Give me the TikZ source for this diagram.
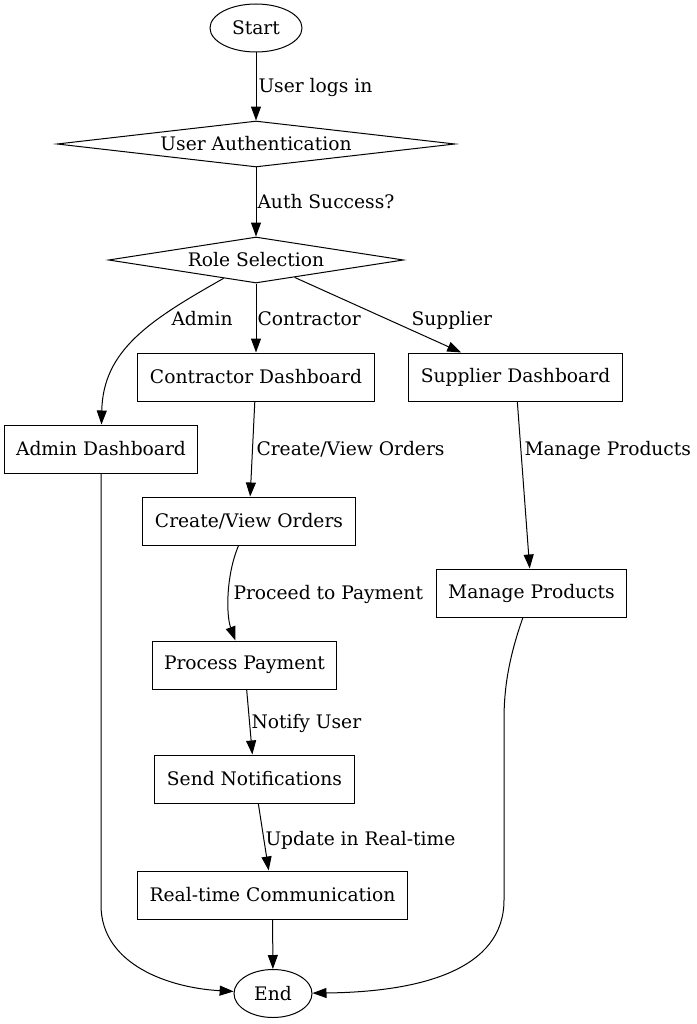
\documentclass[tikz,border=0pt]{standalone}
\usepackage{fontspec}
\setmainfont{DejaVu Serif}
\usetikzlibrary{shapes.geometric,arrows.meta}

\begin{document}
\begin{tikzpicture}[
        x=0.75pt, y=-0.75pt,
        every node/.style={align=center, font=\fontsize{14pt}{17pt}\selectfont},
        box/.style={rectangle, draw, line width=0.75pt, minimum height=36pt, inner xsep=9pt},
        terminal/.style={ellipse, draw, line width=0.75pt, minimum height=36pt},
        decision/.style={diamond, draw, line width=0.75pt, aspect=8, inner sep=0pt, minimum height=34.5pt},
        arr/.style={-{Triangle[length=10.5pt,width=7.5pt]}, line width=0.75pt},
    ]
    \tikzstyle{lbl}=[anchor=west, inner sep=0pt, text height=10pt, text depth=3pt, yshift=-2.25pt]
    \useasboundingbox (0,0) rectangle (696,1024);
    \node[terminal, minimum width=69pt] (start) at (256,28) {Start};
    \node[decision, minimum width=298.5pt] (ua) at (256,144) {User Authentication};
    \node[decision, minimum width=221.25pt] (rs) at (256,260) {Role Selection};
    \node[box] (cd) at (256,377) {Contractor Dashboard};
    \node[box] (sd) at (515.5,377) {Supplier Dashboard};
    \node[box] (ad) at (101,449) {Admin Dashboard};
    \node[box] (cvo) at (249,521) {Create/View Orders};
    \node[box] (mp) at (531.5,593) {Manage Products};
    \node[box] (pp) at (244.5,665) {Process Payment};
    \node[box] (sn) at (254.5,779) {Send Notifications};
    \node[box] (rtc) at (272.5,895) {Real-time Communication};
    \node[terminal, minimum width=58.5pt] (stop) at (273,993.5) {End};

    \draw[arr] (start) -- (ua) node[lbl] at (258,85) {User logs in};
    \draw[arr] (ua) -- (rs) node[lbl] at (257,201) {Auth Success?};
    \draw[arr] (rs) .. controls (150,320) and (103,350) .. (ad) node[lbl] at (171,318) {Admin};
    \draw[arr] (rs) -- (cd) node[lbl] at (257,318) {Contractor};
    \draw[arr] (rs) -- (sd) node[lbl] at (411,318) {Supplier};
    \draw[arr] (cd) -- (cvo) node[lbl] at (256,448) {Create/View Orders};
    \draw[arr] (sd) -- (mp) node[lbl] at (524,448) {Manage Products};
    \draw[arr] (cvo) .. controls (226,575) and (226,615) .. (pp) node[lbl] at (233,592) {Proceed to Payment};
    \draw[arr] (pp) -- (sn) node[lbl] at (251,721) {Notify User};
    \draw[arr] (sn) -- (rtc) node[lbl] at (265,838) {Update in Real-time};
    \draw[arr] (rtc) -- (stop);
    \draw[arr] (ad) -- (101,905) .. controls (101,965) and (170,988) .. (stop);
    \draw[arr] (mp) .. controls (508,660) and (504,690) .. (504,720) -- (504,900) .. controls (504,970) and (420,992) .. (stop);
\end{tikzpicture}
\end{document}
